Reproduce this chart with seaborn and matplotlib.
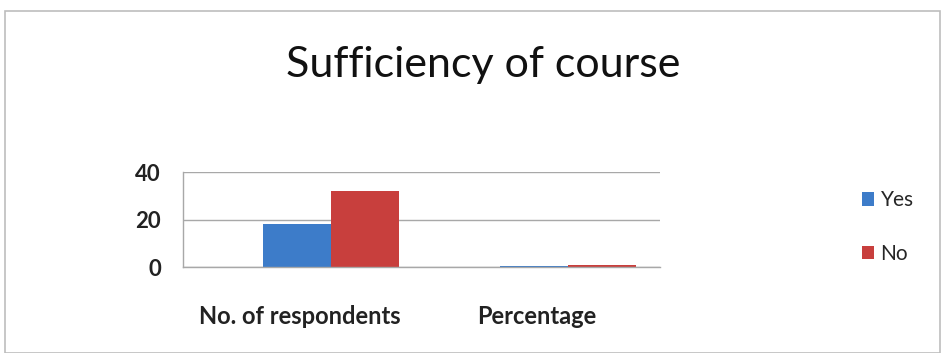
import matplotlib
matplotlib.use("Agg")
import matplotlib.pyplot as plt
import matplotlib.transforms as mtransforms
import seaborn as sns
import pandas as pd
from matplotlib.patches import Rectangle

categories = ["No. of respondents", "Percentage"]
series = ["Yes", "No"]
yes_values = [18, 0.36]
no_values = [32, 0.64]
y_ticks = [0, 20, 40]

df = pd.DataFrame({
    "category": categories * 2,
    "series": ["Yes"] * len(categories) + ["No"] * len(categories),
    "value": yes_values + no_values,
})

sns.set_theme(style="white")
plt.rcParams["font.family"] = ["Lato", "DejaVu Sans"]

fig = plt.figure(figsize=(9.41, 3.53), dpi=100)
fig.patch.set_facecolor("white")
fig.add_artist(Rectangle((0.005, 0.0), 0.994, 0.968, transform=fig.transFigure,
                         fill=False, edgecolor="#bdbdbd", linewidth=1.2))

ax = fig.add_axes([183/941, 1 - 267/353, 477/941, 95/353])
palette = {"Yes": "#3d7cc9", "No": "#c83f3d"}
sns.barplot(data=df, x="category", y="value", hue="series", order=categories,
            hue_order=series, palette=palette, width=0.574, saturation=1,
            ax=ax, legend=True, edgecolor="none")

ax.set_xlim(-0.624, 1.39)
ax.set_ylim(0, 40)
ax.set_yticks(y_ticks)
ax.set_yticklabels([str(t) for t in y_ticks], fontsize=16, fontweight="bold", color="#222222")
ax.yaxis.grid(True, color="#a8a8a8", linewidth=1)
ax.set_axisbelow(True)
ax.set_xlabel("")
ax.set_ylabel("")
ax.tick_params(axis="x", labelsize=17, colors="#222222", pad=27, length=0)
ax.tick_params(axis="y", pad=16, length=0)
shift = mtransforms.ScaledTranslation(-31/100, 0, fig.dpi_scale_trans)
for lbl in ax.get_xticklabels():
    lbl.set_fontweight("bold")
    lbl.set_transform(lbl.get_transform() + shift)
for s in ["top", "right"]:
    ax.spines[s].set_visible(False)
for s in ["left", "bottom"]:
    ax.spines[s].set_color("#a8a8a8")
    ax.spines[s].set_linewidth(1)

leg = ax.legend(loc="center left", frameon=False,
                fontsize=15, handlelength=0.6, handleheight=0.6, handletextpad=0.3,
                labelspacing=1.6)
leg.set_bbox_to_anchor((843/941, 1 - 227/353), transform=fig.transFigure)

fig.text(483/941, 1 - 65/353, "Sufficiency of course", ha="center", va="center",
         fontsize=31, color="#111111")

fig.savefig("out.png", dpi=100, facecolor="white")
